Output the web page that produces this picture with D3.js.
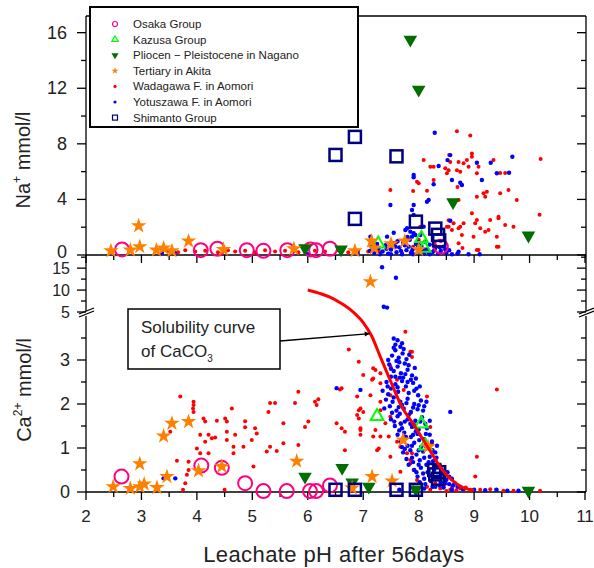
<!DOCTYPE html>
<html>
<head>
<meta charset="utf-8">
<script src="https://cdn.jsdelivr.net/npm/d3@7"></script>
<style>
  body { margin: 0; background: #fff; }
  svg text { font-family: Arial, "Liberation Sans", sans-serif; fill: #222; }
</style>
</head>
<body>
<div id="chart"></div>
<script>
(function () {
    'use strict';

    // ---- data: [pH, value] ----
    var groups = ['Osaka Group', 'Kazusa Group', 'Pliocen \u2212 Pleistocene in Nagano', 'Tertiary in Akita',
        'Wadagawa F. in Aomori', 'Yotuszawa F. in Aomori', 'Shimanto Group'];

    var osakaNa = [[2.65,0.4],[4.07,0.35],[4.37,0.45],[4.9,0.35],[5.2,0.3],[5.63,0.35],[6.05,0.4],[6.15,0.35],[6.4,0.45],[8.4,0.6]];
    var osakaCa = [[2.64,0.35],[4.08,0.6],[4.45,0.55],[4.87,0.2],[5.2,0.02],[5.62,0.02],[6.04,0.02],[6.15,0.02],[6.4,0.15]];

    var kazusaNa = [[7.27,0.8],[8.05,1.2],[8.1,0.5]];
    var kazusaCa = [[7.25,1.72],[8.05,1.55],[8.12,1.05]];

    var naganoNa = [[5.95,0.5],[6.6,0.4],[7.85,15.5],[8.0,11.9],[8.62,3.8],[9.98,1.4]];
    var naganoCa = [[5.95,0.35],[6.62,0.55],[6.8,0.22],[7.1,0.12],[7.95,0.06],[9.98,0.03]];

    var akitaNa = [[2.45,0.3],[2.8,0.35],[2.95,2.1],[2.97,0.6],[3.27,0.35],[3.4,0.5],[3.55,0.3],[3.85,1.0],[4.48,0.4],
        [5.75,0.45],[6.85,0.3],[7.15,1.0],[7.2,0.5],[7.5,0.8],[7.75,1.0],[8.0,0.4]];
    var akitaCa = [[2.49,0.12],[2.8,0.08],[2.97,0.64],[2.97,0.12],[3.05,0.18],[3.28,0.1],[3.4,1.27],[3.46,0.35],[3.55,1.56],
        [3.85,1.6],[4.03,0.48],[4.45,0.58],[5.8,0.7],[6.8,0.09],[7.13,11.9],[7.16,0.35],[7.52,0.25],[7.72,1.18],[8.17,1.03]];

    var wadagawaNa = [[8.69,8.9],[8.93,8.6],[8.09,6.83],[8.55,7.2],[8.57,6.7],[8.72,6.7],[8.81,6.6],[8.9,6.35],[8.96,7.3],
        [8.96,7.07],[8.87,6.83],[8.27,6.35],[8.48,6.24],[8.51,5.88],[8.54,6.1],[8.69,6.1],[8.75,6.0],[9.05,5.88],[9.08,6.35],
        [7.97,5.27],[8.0,5.16],[8.27,5.4],[8.7,4.9],[9.35,6.83],[9.47,5.9],[9.56,5.9],[10.2,6.9],[7.49,4.68],[7.9,4.6],
        [8.15,4.62],[9.05,4.2],[9.17,4.44],[9.2,4.2],[9.23,4.55],[9.47,4.44],[9.62,4.68],[9.77,3.96],[8.72,3.96],[8.96,3.0],
        [9.05,2.52],[9.02,2.28],[8.81,2.28],[8.75,2.04],[9.11,1.92],[9.29,2.52],[9.44,2.76],[9.44,2.64],[9.2,1.68],[9.26,1.8],
        [9.56,2.16],[9.71,2.04],[10.18,2.9],[8.54,2.04],[8.6,1.8],[8.72,1.92],[8.63,2.28],[9.41,1.32],[8.78,1.44],[8.99,1.32],
        [9.41,0.6],[9.05,0.36],[8.72,0.84],[8.21,6.35],[8.03,2.04],[8.51,2.04],[8.54,2.5],
        [3.48,0.3],[3.66,0.2],[3.79,0.35],[3.97,0.25],[4.15,0.3],[4.38,0.2],[4.56,0.35],[4.69,0.25],[4.87,0.3],[5.05,0.2],
        [5.23,0.35],[5.41,0.25],[5.59,0.3],[5.83,0.2],[6.13,0.3],[6.31,0.25],[6.55,0.35],[6.73,0.2],[6.91,0.3],[7.09,0.25],
        [7.27,0.35],[7.3,0.2],[7.5,0.4],[7.7,0.15],[7.9,0.6],[8.1,0.3],[8.3,0.7],[8.5,0.2],[7.6,0.9],[8.0,1.1],[8.4,1.0],
        [8.79,0.5],[9.08,0.36],[9.44,0.6]];
    var wadagawaCa = [[3.7,2.17],[3.94,2.05],[3.94,1.98],[3.93,1.9],[3.94,1.82],[4.63,1.9],[4.12,1.67],[4.15,1.6],[4.36,1.62],
        [4.51,1.67],[4.54,1.6],[3.52,1.37],[4.06,1.3],[4.21,1.3],[4.27,1.22],[4.54,1.37],[4.54,1.18],[4.69,1.3],[4.15,1.14],
        [4.33,1.24],[4.0,0.99],[4.06,0.88],[4.21,0.88],[4.66,1.03],[4.66,0.88],[3.64,0.71],[3.85,0.69],[4.87,1.61],[4.87,1.47],
        [5.05,1.45],[5.08,1.33],[4.99,1.18],[4.84,1.03],[5.32,2.02],[5.41,2.02],[5.29,1.82],[5.56,1.56],[5.32,1.03],[5.26,0.92],
        [5.44,0.93],[5.56,1.11],[5.02,0.58],[3.82,0.39],[3.85,0.5],[3.79,0.2],[5.83,2.28],[5.77,2.02],[6.13,2.05],[6.16,1.98],
        [6.19,2.11],[6.01,1.6],[5.95,1.48],[5.83,1.07],[6.58,2.33],[6.74,3.24],[6.92,2.96],[6.52,1.56],[6.61,1.45],[6.67,0.95],
        [6.89,2.17],[6.92,1.86],[6.92,1.67],[6.95,1.41],[7.76,3.64],[7.88,3.19],[7.0,2.66],[7.18,2.58],[7.18,2.81],[6.61,2.36],
        [7.31,2.47],[6.95,1.9],[6.89,1.75],[7.0,1.82],[7.13,2.2],[8.15,2.17],[6.67,1.37],[6.95,1.45],[6.95,1.3],[7.18,1.26],
        [7.25,0.95],[7.49,0.8],[7.67,0.46],[9.41,2.33],[9.02,0.35],[9.05,0.8],[7.31,1.86],[7.4,1.56],[7.46,1.26],[7.61,1.14],
        [7.67,1.03],[7.79,0.88],[7.85,0.65],[7.91,0.5],[7.97,0.27],[8.03,0.2],[8.15,0.12],[8.21,0.05],[8.39,0.08],[8.57,0.05],
        [8.75,0.08],[8.81,0.05],[8.93,0.05],[9.11,0.05],[9.29,0.06],[9.41,0.05],[9.53,0.03],[9.71,0.03],[10.19,0.03],
        [7.85,3.19],[7.88,3.07],[7.22,2.77],[7.31,2.7],[7.16,2.55],[7.49,2.2],[7.31,2.05],[7.22,1.41],[7.31,1.26],[7.28,0.99],
        [7.88,0.88],[7.85,0.73],[8.21,1.48],[8.24,1.11],[7.73,2.32],[7.61,2.55],[7.49,2.85],[7.85,1.79],[7.97,1.41],[7.49,1.71],
        [7.67,1.56],[7.73,1.26],[8.45,0.15],[8.6,0.1],[8.68,0.04],[8.85,0.1],[8.5,0.02],[8.3,0.2],[3.75,0.05],[4.5,0.05]];

    var yotuszawaNa = [[8.29,8.8],[9.69,7.07],[9.3,6.64],[9.41,5.88],[9.63,5.92],[9.05,6.64],[8.57,7.19],[8.52,6.83],[8.36,6.4],
        [8.6,5.4],[8.75,5.2],[8.78,5.04],[8.27,5.09],[9.14,5.4],[7.91,5.76],[7.91,5.59],[8.18,3.96],[8.15,3.83],[7.49,3.6],
        [7.91,3.6],[7.88,3.24],[7.91,2.88],[8.57,2.47],[7.79,1.92],[7.85,1.68],[7.91,1.56],[7.88,1.32],[8.09,2.04],[8.03,1.44],
        [8.72,0.24],[7.55,1.6],[7.43,1.32],[7.13,1.32],[7.76,1.8],[7.94,1.44],
        [7.12,0.3],[7.2,0.15],[7.28,0.5],[7.35,0.25],[7.4,0.7],[7.45,0.1],[7.5,0.4],[7.55,0.85],[7.6,0.2],[7.65,0.55],[7.7,0.05],
        [7.72,0.9],[7.78,0.35],[7.82,0.6],[7.86,0.15],[7.9,0.45],[7.95,0.8],[8.0,0.25],[8.05,0.65],[8.1,0.1],[8.15,0.4],[8.2,0.75],
        [8.25,0.2],[8.3,0.5],[8.35,0.1],[8.4,0.3],[8.45,0.6],[8.5,0.15],[8.55,0.35],[8.6,0.05],[7.3,0.05],[7.5,0.05],[7.9,0.05],
        [8.2,0.05],[7.62,1.0],[7.84,1.1],[8.12,0.95],[8.7,0.1],[8.9,0.05],[9.1,0.05],[3.37,0.15],[3.6,0.15],[6.0,0.05],[6.9,0.1],
        [7.15,0.6],[7.25,0.8],[7.42,0.45],[7.58,0.6],[7.68,0.3],[7.75,0.7],[7.88,0.3],[7.98,0.5],[8.08,0.4],[8.18,0.2],
        [8.28,0.35],[8.38,0.55],[8.48,0.4],[7.8,1.3],[8.0,0.9]];
    var yotuszawaCa = [[7.55,3.49],[7.67,3.3],[7.62,3.45],[7.7,3.38],
        [7.52,3.1],[7.58,3.22],[7.64,3.05],[7.71,3.15],[7.78,3.02],[7.6,2.98],[7.83,3.12],[7.55,3.28],
        [7.47,2.9],[7.55,2.75],[7.62,2.85],[7.68,2.7],[7.75,2.92],[7.8,2.78],[7.88,2.65],[7.5,2.62],[7.72,2.6],[7.93,2.82],
        [7.42,2.5],[7.5,2.35],[7.58,2.45],[7.63,2.28],[7.7,2.52],[7.77,2.4],[7.82,2.25],[7.9,2.48],[7.96,2.35],[7.45,2.22],
        [7.86,2.55],[7.66,2.6],[7.99,2.2],
        [7.41,2.1],[7.48,1.95],[7.55,2.15],[7.6,1.85],[7.67,2.05],[7.73,1.9],[7.8,2.12],[7.86,1.82],[7.92,2.0],[7.98,1.88],
        [8.04,2.08],[8.1,1.95],[7.52,1.8],[7.7,1.98],
        [7.5,1.65],[7.57,1.5],[7.62,1.72],[7.7,1.45],[7.75,1.6],[7.82,1.75],[7.88,1.48],[7.94,1.62],[8.0,1.42],[8.06,1.7],
        [8.12,1.55],[7.66,1.78],[7.85,1.55],
        [7.62,1.3],[7.68,1.15],[7.74,1.35],[7.8,1.05],[7.86,1.25],[7.92,1.12],[7.98,1.32],[8.04,1.02],[8.1,1.2],[8.16,1.08],
        [8.2,1.3],[7.7,1.02],[7.95,1.38],
        [7.72,0.9],[7.78,0.75],[7.85,0.95],[7.9,0.68],[7.96,0.85],[8.02,0.72],[8.08,0.92],[8.14,0.62],[8.2,0.8],[8.26,0.7],
        [8.3,0.9],[7.82,0.62],
        [7.92,0.5],[7.98,0.35],[8.04,0.55],[8.1,0.3],[8.16,0.45],[8.22,0.25],[8.28,0.5],[8.34,0.35],[8.4,0.22],[8.46,0.4],
        [8.5,0.28],[8.55,0.35],[8.02,0.22],
        [7.65,0.05],[7.9,0.1],[8.1,0.08],[8.3,0.12],[8.45,0.1],[8.6,0.05],[8.7,0.12],[8.8,0.06],[9.0,0.05],[9.2,0.04],[9.4,0.05],
        [9.6,0.03],[9.8,0.03],[8.55,0.18],[8.65,0.2],
        [7.45,3.0],[7.58,3.35],[7.73,3.25],[7.5,2.8],[7.65,2.95],[7.82,2.88],[7.58,2.62],[7.76,2.68],[7.95,2.58],[7.44,2.4],
        [7.62,2.38],[7.8,2.5],[7.92,2.3],[8.02,2.4],[7.53,2.05],[7.64,1.93],[7.78,2.02],[7.9,1.92],[8.0,1.97],[8.08,1.85],
        [8.14,2.05],[7.56,1.6],[7.68,1.55],[7.8,1.65],[7.92,1.52],[8.03,1.6],[8.15,1.45],[8.2,1.62],[7.65,1.4],[7.77,1.25],
        [7.9,1.3],[8.01,1.18],[8.13,1.32],[8.24,1.15],[7.75,0.98],[7.88,1.05],[8.0,0.95],[8.12,1.05],[8.25,0.95],[8.33,1.05],
        [7.88,0.78],[8.0,0.62],[8.1,0.78],[8.18,0.68],[8.32,0.78],[8.38,0.6],[7.96,0.45],[8.08,0.42],[8.2,0.38],[8.3,0.6],
        [8.42,0.5],[8.52,0.45],[8.6,0.3],[8.12,0.18],[8.25,0.12],[8.38,0.15],[8.48,0.2],[8.62,0.15],[7.35,2.3],[7.38,1.9],
        [6.52,2.36],[6.95,2.32],[8.57,1.82],[3.4,0.31],[3.61,0.31],[7.34,15.2],[7.59,12.8],[7.37,6.2],[7.43,6.0]];

    var shimantoNa = [[6.5,7.2],[6.85,8.5],[6.85,2.6],[7.6,7.1],[7.95,2.4],[8.3,1.9],[8.35,1.45],[8.37,1.05]];
    var shimantoCa = [[6.5,0.05],[6.85,0.05],[7.6,0.05],[7.95,0.05],[8.28,0.5],[8.3,0.4],[8.35,0.3],[8.37,0.45]];

    // solubility curve of CaCO3
    var curvePH = [6.0, 6.2, 6.4, 6.6, 6.8, 7.0, 7.15, 7.3, 7.5, 7.7, 7.9, 8.05, 8.2, 8.4, 8.6, 8.8, 9.0];
    var curveCa = [10, 9.3, 8.4, 7.0, 5.2, 3.85, 3.55, 3.1, 2.5, 1.93, 1.55, 1.25, 0.95, 0.55, 0.27, 0.1, 0.04];

    var xTicks = [2, 3, 4, 5, 6, 7, 8, 9, 10, 11];
    var naTicks = [0, 4, 8, 12, 16];
    var caLowTicks = [0, 1, 2, 3];
    var caHighTicks = [5, 10, 15];

    // ---- layout ----
    var W = 594, H = 568;
    var left = 86, right = 586;
    var upTop = 16, mid = 255, bottom = 492;

    var svg = d3.select('#chart').append('svg').attr('width', W).attr('height', H);

    var x = d3.scaleLinear().domain([2, 11]).range([left, 585]);
    var yNa = d3.scaleLinear().domain([0, 17.2]).range([mid, upTop]);
    var yLow = d3.scaleLinear().domain([0, 4]).range([bottom, 316]);
    var yHigh = d3.scaleLinear().domain([5, 18]).range([312, mid]);
    var yCa = function (v) {
        if (v <= 4) return yLow(v);
        if (v >= 5) return yHigh(v);
        return yLow(4) + (v - 4) * (yHigh(5) - yLow(4));
    };

    var col = {
        osaka: '#ff0080', kazusa: '#00ff00', nagano: '#006e00', akita: '#ff8000',
        wada: '#ff0000', yotu: '#0000ff', shim: '#000080'
    };

    // ---- axes ----
    var ax = svg.append('g').attr('stroke', '#000').attr('stroke-width', 1.3).attr('fill', 'none');
    // frame lines
    ax.append('line').attr('x1', left).attr('x2', right).attr('y1', upTop).attr('y2', upTop);
    ax.append('line').attr('x1', left).attr('x2', right).attr('y1', mid).attr('y2', mid);
    ax.append('line').attr('x1', left).attr('x2', right).attr('y1', bottom).attr('y2', bottom);
    [left, right].forEach(function (xx) {
        ax.append('line').attr('x1', xx).attr('x2', xx).attr('y1', upTop).attr('y2', mid);
        ax.append('line').attr('x1', xx).attr('x2', xx).attr('y1', mid).attr('y2', 311);
        ax.append('line').attr('x1', xx).attr('x2', xx).attr('y1', 316).attr('y2', bottom);
        ax.append('line').attr('x1', xx - 7).attr('x2', xx + 8).attr('y1', 317).attr('y2', 311);
        ax.append('line').attr('x1', xx - 7).attr('x2', xx + 8).attr('y1', 314).attr('y2', 308);
    });

    // x ticks (major + minor) on both panel bottoms
    var xt = d3.range(2, 11.01, 0.5);
    [mid, bottom].forEach(function (yy) {
        ax.selectAll(null).data(xt).enter().append('line')
            .attr('x1', function (d) { return x(d); }).attr('x2', function (d) { return x(d); })
            .attr('y1', yy).attr('y2', function (d) { return yy + (d % 1 === 0 ? 8 : 5); });
    });
    svg.selectAll('.xlab').data(xTicks).enter().append('text')
        .attr('class', 'xlab').attr('x', function (d) { return x(d); }).attr('y', 522)
        .attr('text-anchor', 'middle').attr('font-size', 17).text(function (d) { return d; });

    // y ticks: left outward, right inward
    function yTicks(vals, scale, major) {
        [left, right].forEach(function (xx) {
            ax.selectAll(null).data(vals).enter().append('line')
                .attr('x1', xx).attr('y1', function (d) { return scale(d); }).attr('y2', function (d) { return scale(d); })
                .attr('x2', function (d) { return xx - (major(d) ? 9 : 5); });
        });
    }
    yTicks(d3.range(0, 17, 2), yNa, function (d) { return d % 4 === 0; });
    yTicks(d3.range(0, 3.6, 0.5), yLow, function (d) { return d % 1 === 0; });
    yTicks(d3.range(5, 17.6, 2.5), yHigh, function (d) { return d % 5 === 0; });

    svg.selectAll('.nalab').data(naTicks).enter().append('text')
        .attr('x', 67).attr('y', function (d) { return yNa(d) + (d === 0 ? 3 : 6); })
        .attr('text-anchor', 'end').attr('font-size', 18).text(function (d) { return d; });
    svg.selectAll('.calab').data(caLowTicks).enter().append('text')
        .attr('x', 70).attr('y', function (d) { return yLow(d) + 6; })
        .attr('text-anchor', 'end').attr('font-size', 18).text(function (d) { return d; });
    svg.selectAll('.cahlab').data(caHighTicks).enter().append('text')
        .attr('x', 70).attr('y', function (d) { return yHigh(d) + 6; })
        .attr('text-anchor', 'end').attr('font-size', 16).text(function (d) { return d; });

    // axis titles
    var t1 = svg.append('text').attr('transform', 'translate(30,160) rotate(-90)')
        .attr('text-anchor', 'middle').attr('font-size', 20);
    t1.append('tspan').text('Na');
    t1.append('tspan').attr('dy', -9).attr('font-size', 12).text('+');
    t1.append('tspan').attr('dy', 9).text(' mmol/l');
    var t2 = svg.append('text').attr('transform', 'translate(31,390) rotate(-90)')
        .attr('text-anchor', 'middle').attr('font-size', 20);
    t2.append('tspan').text('Ca');
    t2.append('tspan').attr('dy', -9).attr('font-size', 12).text('2+');
    t2.append('tspan').attr('dy', 9).text(' mmol/l');
    svg.append('text').attr('x', 334).attr('y', 562).attr('text-anchor', 'middle')
        .attr('font-size', 22).attr('letter-spacing', 0.4).attr('fill', '#333').text('Leachate pH after 56days');

    // ---- marks ----
    var star = d3.symbol().type(d3.symbolStar);
    var tri = d3.symbol().type(d3.symbolTriangle);

    function dots(data, ys, color, r) {
        svg.append('g').selectAll('circle').data(data).enter().append('circle')
            .attr('cx', function (d) { return x(d[0]); }).attr('cy', function (d) { return ys(d[1]); })
            .attr('r', r).attr('fill', color);
    }
    function circles(data, ys) {
        svg.append('g').selectAll('circle').data(data).enter().append('circle')
            .attr('cx', function (d) { return x(d[0]); }).attr('cy', function (d) { return ys(d[1]); })
            .attr('r', 7).attr('fill', 'none').attr('stroke', col.osaka).attr('stroke-width', 2);
    }
    function symbols(data, ys, gen, size, rot, fill, stroke) {
        svg.append('g').selectAll('path').data(data).enter().append('path')
            .attr('d', gen.size(size)())
            .attr('transform', function (d) { return 'translate(' + x(d[0]) + ',' + ys(d[1]) + ') rotate(' + rot + ')'; })
            .attr('fill', fill).attr('stroke', stroke).attr('stroke-width', stroke === 'none' ? 0 : 2);
    }
    function squares(data, ys) {
        svg.append('g').selectAll('rect').data(data).enter().append('rect')
            .attr('x', function (d) { return x(d[0]) - 6; }).attr('y', function (d) { return ys(d[1]) - 6; })
            .attr('width', 12).attr('height', 12).attr('fill', 'none')
            .attr('stroke', col.shim).attr('stroke-width', 2.5);
    }

    [[yNa, 0], [yCa, 1]].forEach(function (p) {
        var ys = p[0], ca = p[1];
        dots(ca ? wadagawaCa : wadagawaNa, ys, col.wada, 2);
        dots(ca ? yotuszawaCa : yotuszawaNa, ys, col.yotu, 2.2);
        circles(ca ? osakaCa : osakaNa, ys);
        symbols(ca ? kazusaCa : kazusaNa, ys, tri, 70, 0, 'none', col.kazusa);
        symbols(ca ? naganoCa : naganoNa, ys, tri, 80, 180, col.nagano, 'none');
        symbols(ca ? akitaCa : akitaNa, ys, star, 75, 0, col.akita, 'none');
        squares(ca ? shimantoCa : shimantoNa, ys);
    });

    // solubility curve
    var curvePts = curvePH.map(function (p, i) { return [p, curveCa[i]]; });
    svg.append('path').datum(curvePts)
        .attr('d', d3.line().x(function (d) { return x(d[0]); }).y(function (d) { return yCa(d[1]); }).curve(d3.curveMonotoneX))
        .attr('fill', 'none').attr('stroke', '#ff0000').attr('stroke-width', 3);

    // callout
    svg.append('defs').append('marker').attr('id', 'arr').attr('viewBox', '0 0 10 10')
        .attr('refX', 10).attr('refY', 5).attr('markerWidth', 5).attr('markerHeight', 4).attr('orient', 'auto')
        .append('path').attr('d', 'M0,0 L10,5 L0,10 z').attr('fill', '#000');
    svg.append('line').attr('x1', 280).attr('y1', 341).attr('x2', x(7.12)).attr('y2', yCa(3.6))
        .attr('stroke', '#000').attr('stroke-width', 1.3).attr('marker-end', 'url(#arr)');
    svg.append('rect').attr('x', 128).attr('y', 309).attr('width', 152).attr('height', 60)
        .attr('fill', '#fff').attr('stroke', '#000').attr('stroke-width', 1.5);
    svg.append('text').attr('x', 141).attr('y', 333).attr('font-size', 17).text('Solubility curve');
    var ct = svg.append('text').attr('x', 141).attr('y', 357).attr('font-size', 17);
    ct.append('tspan').text('of CaCO');
    ct.append('tspan').attr('dy', 5).attr('font-size', 10).text('3');

    // ---- legend ----
    var lg = svg.append('g').attr('transform', 'translate(90,7)');
    lg.append('rect').attr('width', 268).attr('height', 120).attr('fill', '#fff')
        .attr('stroke', '#000').attr('stroke-width', 2);
    groups.forEach(function (name, i) {
        var cy = 17 + i * 15.6, cx = 25;
        var g = lg.append('g').attr('transform', 'translate(' + cx + ',' + cy + ')');
        if (i === 0) g.append('circle').attr('r', 2.5).attr('fill', 'none').attr('stroke', col.osaka).attr('stroke-width', 1.2);
        if (i === 1) g.append('path').attr('d', tri.size(18)()).attr('fill', 'none').attr('stroke', col.kazusa).attr('stroke-width', 1.2);
        if (i === 2) g.append('path').attr('d', tri.size(22)()).attr('transform', 'rotate(180)').attr('fill', col.nagano);
        if (i === 3) g.append('path').attr('d', star.size(16)()).attr('fill', col.akita);
        if (i === 4) g.append('circle').attr('r', 1.6).attr('fill', col.wada);
        if (i === 5) g.append('circle').attr('r', 1.6).attr('fill', col.yotu);
        if (i === 6) g.append('rect').attr('x', -2.5).attr('y', -2.5).attr('width', 5).attr('height', 5)
            .attr('fill', 'none').attr('stroke', col.shim).attr('stroke-width', 1.2);
        lg.append('text').attr('x', 43).attr('y', cy + 4).attr('font-size', 11.5).attr('fill', '#333').text(name);
    });
}());
</script>
</body>
</html>
